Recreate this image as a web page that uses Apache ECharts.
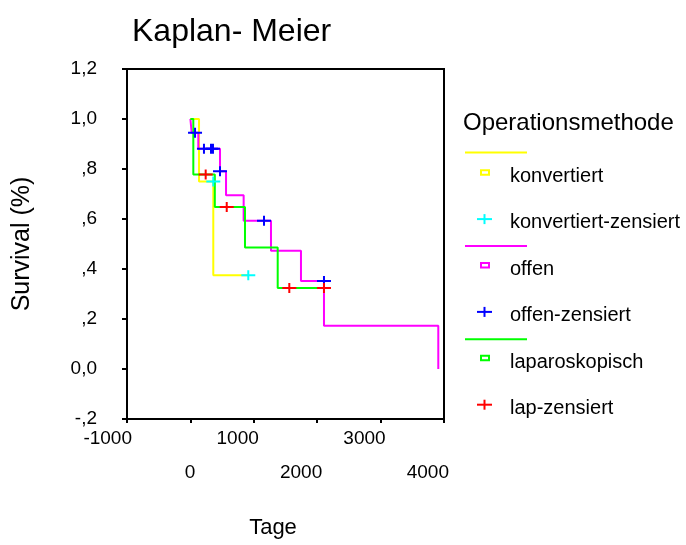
<!DOCTYPE html>
<html>
<head>
<meta charset="utf-8">
<script src="https://cdn.jsdelivr.net/npm/echarts@6/dist/echarts.min.js"></script>
<style>
html,body{margin:0;padding:0;background:#fff;}
#chart{width:686px;height:545px;}
</style>
</head>
<body>
<div id="chart"></div>
<script>
// ---- data (time in days, survival as fraction) ----
const xTickLabels = ['-1000', '0', '1000', '2000', '3000', '4000'];
const yTickLabels = ['-,2', '0,0', ',2', ',4', ',6', ',8', '1,0', '1,2'];

const konvertiert = [[0, 1], [136, 0.75], [361, 0.375], [913, 0.375]];
const konvertiertZensiert = [[361, 0.75], [913, 0.375]];

const offen = [[0, 1], [20, 0.945], [125, 0.881], [467, 0.791], [562, 0.695], [840, 0.593], [1271, 0.473], [1744, 0.352], [2107, 0.173], [3910, 0]];
const offenZensiert = [[73, 0.945], [214, 0.881], [325, 0.881], [356, 0.881], [467, 0.791], [1161, 0.593], [2107, 0.352]];

const laparoskopisch = [[0, 1], [46, 0.778], [385, 0.648], [861, 0.486], [1377, 0.324], [2107, 0.324]];
const lapZensiert = [[241, 0.778], [573, 0.648], [1560, 0.324], [2107, 0.324]];

const legendTitle = 'Operationsmethode';
const legendNames = ['konvertiert', 'konvertiert-zensiert', 'offen', 'offen-zensiert', 'laparoskopisch', 'lap-zensiert'];
const legendColors = ['#FFFF00', '#00FFFF', '#FF00FF', '#0000FF', '#00FF00', '#FF0000'];

// ---- chart ----
const FONT = 'Liberation Sans, Arial, sans-serif';
const plusPath = 'path://M0,4H6V0H8V4H14V6H8V10H6V6H0Z';

function stepSeries(name, data, color) {
  return {
    name: name, type: 'line', step: 'end', data: data,
    symbol: 'none', lineStyle: { color: color, width: 2 }, itemStyle: { color: color },
    z: 3, silent: true, animation: false
  };
}
function censorSeries(name, data, color) {
  return {
    name: name, type: 'scatter', data: data,
    symbol: plusPath, symbolSize: [14, 10], itemStyle: { color: color, opacity: 1 },
    z: 5, silent: true, animation: false
  };
}

// legend as graphic elements
const graphics = [];
graphics.push({
  type: 'text', left: 463, top: 111,
  style: { text: legendTitle, font: '24px ' + FONT, fill: '#000' }
});
for (let g = 0; g < 3; g++) {
  const c = legendColors[g * 2];
  const ly = 152.5 + g * 93.4;
  graphics.push({ type: 'line', shape: { x1: 465, y1: ly, x2: 527, y2: ly }, style: { stroke: c, lineWidth: 2 } });
}
legendNames.forEach(function (n, i) {
  const base = 184 + i * 46.4;
  const cy = base - 11.3;
  const c = legendColors[i];
  if (i % 2 === 0) {
    graphics.push({ type: 'rect', shape: { x: 481, y: cy - 2.5, width: 8, height: 4.5 }, style: { stroke: c, fill: 'none', lineWidth: 2 } });
  } else {
    graphics.push({ type: 'line', shape: { x1: 477, y1: cy, x2: 492, y2: cy }, style: { stroke: c, lineWidth: 2 } });
    graphics.push({ type: 'line', shape: { x1: 484.5, y1: cy - 5, x2: 484.5, y2: cy + 5 }, style: { stroke: c, lineWidth: 2 } });
  }
  graphics.push({
    type: 'text', left: 510, top: base - 17.5,
    style: { text: n, font: '20px ' + FONT, fill: '#000' }
  });
});

const chart = echarts.init(document.getElementById('chart'), null, { renderer: 'canvas' });
chart.setOption({
  animation: false,
  backgroundColor: '#fff',
  title: {
    text: 'Kaplan- Meier', left: 127, top: 11,
    textStyle: { fontFamily: FONT, fontSize: 32, fontWeight: 'normal', color: '#000' }
  },
  grid: {
    left: 127, right: 242, top: 69, bottom: 126,
    show: true, borderColor: '#000', borderWidth: 2, backgroundColor: 'transparent'
  },
  xAxis: {
    type: 'value', min: -1000, max: 4000, interval: 1000,
    name: 'Tage', nameLocation: 'middle', nameGap: 98,
    nameTextStyle: { fontFamily: FONT, fontSize: 22, color: '#000', padding: [0, 25, 0, 0] },
    axisLine: { show: true, onZero: false, lineStyle: { color: '#000', width: 2 } },
    axisTick: { show: true, length: 4, lineStyle: { color: '#000', width: 2 } },
    splitLine: { show: false },
    axisLabel: {
      margin: 10, color: '#000', fontFamily: FONT, fontSize: 19, align: 'center',
      formatter: function (v) {
        const i = Math.round((v + 1000) / 1000);
        return (i % 2 === 0 ? '{t|' : '{b|') + xTickLabels[i] + '}';
      },
      rich: {
        t: { width: 10, align: 'right', fontFamily: FONT, fontSize: 19, color: '#000' },
        b: { width: 10, align: 'right', fontFamily: FONT, fontSize: 19, color: '#000', padding: [34, 0, 0, 0] }
      }
    }
  },
  yAxis: {
    type: 'value', min: -0.2, max: 1.2, interval: 0.2,
    name: 'Survival (%)', nameLocation: 'middle', nameGap: 92, nameRotate: 90,
    nameTextStyle: { fontFamily: FONT, fontSize: 25, color: '#000' },
    axisLine: { show: true, onZero: false, lineStyle: { color: '#000', width: 2 } },
    axisTick: { show: true, length: 5, lineStyle: { color: '#000', width: 2 } },
    splitLine: { show: false },
    axisLabel: {
      margin: 30, color: '#000', fontFamily: FONT, fontSize: 19,
      formatter: function (v) { return yTickLabels[Math.round((v + 0.2) / 0.2)]; }
    }
  },
  graphic: graphics,
  series: [
    stepSeries('konvertiert', konvertiert, '#FFFF00'),
    stepSeries('offen', offen, '#FF00FF'),
    stepSeries('laparoskopisch', laparoskopisch, '#00FF00'),
    censorSeries('konvertiert-zensiert', konvertiertZensiert, '#00FFFF'),
    censorSeries('offen-zensiert', offenZensiert, '#0000FF'),
    censorSeries('lap-zensiert', lapZensiert, '#FF0000')
  ]
});
</script>
</body>
</html>
